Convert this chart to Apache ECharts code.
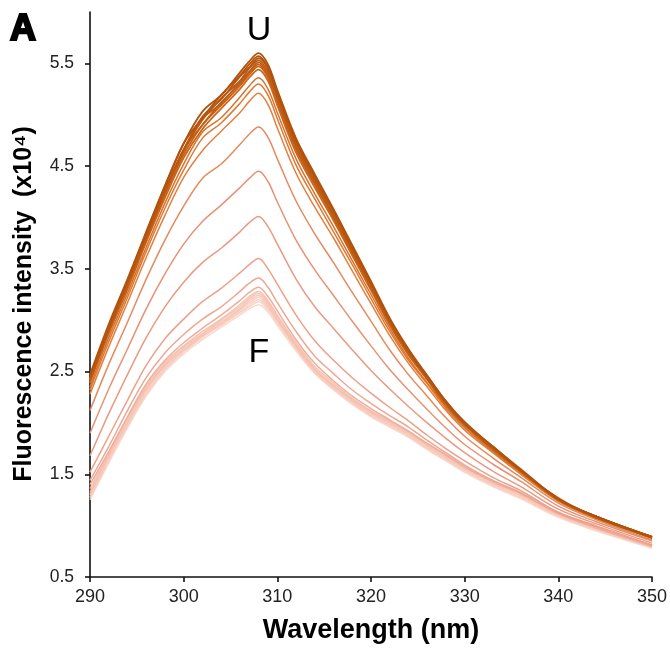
<!DOCTYPE html>
<html>
<head>
<meta charset="utf-8">
<script src="https://cdn.jsdelivr.net/npm/echarts@6/dist/echarts.min.js"></script>
<style>
html,body{margin:0;padding:0;background:#fff;}
#chart{width:670px;height:649px;}
</style>
</head>
<body>
<div id="chart"></div>
<script>
// Wavelengths (nm)
const wavelengths = [290,292,294,296,298,300,302,304,306,307,308,309,310,312,314,316,318,320,322,324,326,328,330,333,336,340,344,350];

// Tick values
const xTicks = [290,300,310,320,330,340,350];
const yTicks = [0.5,1.5,2.5,3.5,4.5,5.5];

// F-state (folded) cluster, light
const f7 = [1.25,1.61,1.95,2.26,2.50,2.67,2.81,2.93,3.05,3.11,3.15,3.08,2.95,2.70,2.48,2.32,2.18,2.06,1.96,1.86,1.74,1.63,1.52,1.38,1.26,1.08,0.95,0.78];
const f6 = [1.27,1.63,1.97,2.28,2.52,2.69,2.83,2.95,3.07,3.13,3.18,3.10,2.97,2.72,2.49,2.33,2.19,2.07,1.97,1.87,1.75,1.64,1.53,1.39,1.27,1.09,0.96,0.79];
const f5 = [1.28,1.64,1.98,2.29,2.53,2.70,2.84,2.96,3.08,3.15,3.20,3.12,2.99,2.73,2.50,2.34,2.20,2.08,1.98,1.88,1.76,1.65,1.54,1.40,1.28,1.10,0.97,0.79];
const f4 = [1.30,1.66,2.00,2.31,2.55,2.71,2.85,2.97,3.10,3.17,3.22,3.13,3.00,2.74,2.51,2.35,2.21,2.09,1.99,1.89,1.77,1.66,1.55,1.41,1.29,1.10,0.97,0.80];
const f3 = [1.31,1.68,2.01,2.33,2.56,2.72,2.86,2.98,3.11,3.19,3.24,3.15,3.01,2.75,2.52,2.36,2.22,2.10,2.00,1.90,1.78,1.67,1.56,1.42,1.30,1.11,0.98,0.80];
const f2 = [1.33,1.69,2.04,2.34,2.57,2.74,2.87,3.00,3.13,3.21,3.26,3.17,3.03,2.76,2.53,2.37,2.23,2.11,2.01,1.91,1.79,1.68,1.57,1.43,1.31,1.12,0.98,0.81];
const f1 = [1.36,1.71,2.05,2.36,2.59,2.75,2.89,3.01,3.15,3.23,3.28,3.19,3.05,2.78,2.55,2.39,2.24,2.12,2.02,1.92,1.80,1.69,1.58,1.44,1.32,1.13,0.99,0.81];

// Intermediate curves
const m9 = [1.40,1.72,2.06,2.38,2.61,2.78,2.92,3.05,3.19,3.27,3.32,3.23,3.09,2.81,2.58,2.41,2.26,2.14,2.03,1.92,1.80,1.69,1.57,1.43,1.31,1.12,0.98,0.80];
const m8 = [1.44,1.77,2.12,2.44,2.68,2.86,3.01,3.13,3.28,3.36,3.41,3.32,3.17,2.89,2.65,2.48,2.32,2.19,2.07,1.96,1.83,1.71,1.59,1.44,1.32,1.12,0.99,0.81];
const m7 = [1.52,1.87,2.22,2.56,2.82,3.01,3.18,3.31,3.46,3.54,3.60,3.50,3.35,3.05,2.80,2.61,2.44,2.29,2.15,2.02,1.88,1.75,1.63,1.47,1.34,1.13,1.00,0.81];
const m6 = [1.68,2.09,2.47,2.83,3.13,3.37,3.56,3.70,3.86,3.95,4.01,3.91,3.74,3.40,3.13,2.92,2.71,2.51,2.33,2.16,2.00,1.85,1.71,1.53,1.38,1.16,1.02,0.83];
const m5 = [1.90,2.33,2.72,3.11,3.45,3.74,3.96,4.12,4.29,4.38,4.45,4.35,4.15,3.78,3.49,3.24,2.99,2.75,2.52,2.32,2.13,1.95,1.79,1.60,1.43,1.19,1.04,0.85];
const m4 = [2.12,2.57,2.98,3.40,3.78,4.11,4.38,4.52,4.71,4.81,4.88,4.78,4.57,4.16,3.84,3.56,3.27,2.99,2.71,2.47,2.26,2.05,1.87,1.66,1.47,1.22,1.06,0.86];
const m3 = [2.28,2.74,3.17,3.61,4.02,4.39,4.65,4.84,5.02,5.13,5.21,5.10,4.87,4.43,4.10,3.80,3.48,3.16,2.85,2.58,2.35,2.12,1.93,1.71,1.50,1.24,1.07,0.88];
const m2 = [2.32,2.79,3.22,3.67,4.09,4.46,4.77,4.92,5.11,5.22,5.30,5.19,4.96,4.51,4.18,3.86,3.54,3.21,2.89,2.61,2.38,2.14,1.95,1.72,1.51,1.24,1.08,0.88];
const m1 = [2.35,2.83,3.26,3.71,4.14,4.52,4.83,4.97,5.17,5.28,5.36,5.25,5.02,4.57,4.23,3.91,3.58,3.25,2.92,2.63,2.39,2.16,1.96,1.73,1.52,1.25,1.08,0.88];

// U-state (unfolded) cluster, dark
const u8 = [2.39,2.87,3.30,3.76,4.19,4.58,4.86,5.06,5.25,5.36,5.44,5.33,5.09,4.63,4.29,3.97,3.63,3.29,2.95,2.66,2.42,2.17,1.98,1.74,1.53,1.25,1.08,0.89];
const u7 = [2.41,2.89,3.32,3.78,4.22,4.61,4.90,5.09,5.28,5.39,5.47,5.36,5.12,4.66,4.32,3.99,3.65,3.31,2.97,2.67,2.43,2.18,1.98,1.75,1.53,1.25,1.09,0.89];
const u6 = [2.42,2.90,3.34,3.79,4.24,4.66,4.90,5.12,5.30,5.41,5.49,5.38,5.15,4.68,4.33,4.01,3.66,3.32,2.98,2.68,2.43,2.19,1.99,1.75,1.53,1.26,1.09,0.88];
const u5 = [2.43,2.90,3.34,3.80,4.25,4.64,4.96,5.11,5.32,5.42,5.51,5.39,5.16,4.69,4.34,4.02,3.67,3.33,2.98,2.68,2.44,2.19,1.99,1.75,1.54,1.26,1.09,0.89];
const u4 = [2.42,2.91,3.36,3.81,4.26,4.66,4.95,5.16,5.33,5.45,5.53,5.42,5.18,4.71,4.37,4.03,3.68,3.34,2.99,2.69,2.44,2.20,1.99,1.76,1.54,1.26,1.09,0.88];
const u3 = [2.44,2.92,3.38,3.82,4.27,4.66,4.98,5.15,5.37,5.46,5.55,5.45,5.19,4.74,4.37,4.06,3.69,3.36,2.99,2.71,2.44,2.21,1.99,1.77,1.53,1.27,1.08,0.89];
const u2 = [2.46,2.94,3.38,3.85,4.30,4.72,4.97,5.19,5.38,5.49,5.57,5.46,5.22,4.75,4.40,4.07,3.71,3.36,3.01,2.71,2.46,2.21,2.00,1.77,1.54,1.26,1.09,0.89];
const u1 = [2.47,2.96,3.40,3.86,4.31,4.72,5.03,5.19,5.41,5.52,5.60,5.49,5.24,4.77,4.42,4.08,3.73,3.38,3.02,2.72,2.46,2.21,2.01,1.77,1.55,1.26,1.09,0.89];

// Draw order: light first, dark last
const curves = [f7,f6,f5,f4,f3,f2,f1,m9,m8,m7,m6,m5,m4,m3,m2,m1,u8,u7,u6,u5,u4,u3,u2,u1];
const palette = ['#f9d2c4','#f8cebf','#f7cabb','#f6c5b5','#f5c1b0','#f4bdab','#f3b9a6',
                 '#f0ae9a','#eea792','#eca08a','#e99a80','#e79272','#e38a5e','#e2813f','#de7a36','#d9732c',
                 '#cc681c','#c86418','#c46016','#c05c14','#bc5a12','#b85710','#b4540f','#b0520f'];

const series = curves.map((vals, k) => ({
  type: 'line',
  data: wavelengths.map((w, i) => [w, vals[i]]),
  showSymbol: false,
  smooth: 0.35,
  silent: true,
  lineStyle: { color: palette[k], width: k >= 16 ? 1.8 : 1.5, opacity: k < 7 ? 0.85 : 1 },
  z: 2 + k
}));

const chart = echarts.init(document.getElementById('chart'), null, { renderer: 'canvas' });
const fontFam = '"Liberation Sans", Arial, sans-serif';
chart.setOption({
  animation: false,
  backgroundColor: '#ffffff',
  grid: { left: 90, right: 18, top: 12, bottom: 72, containLabel: false },
  xAxis: {
    type: 'value', min: 290, max: 350, interval: 10,
    axisLine: { show: true, lineStyle: { color: '#111', width: 1.6 } },
    axisTick: { show: true, length: 5, inside: false, lineStyle: { color: '#111', width: 1.6 } },
    axisLabel: { color: '#222', fontSize: 18, fontFamily: fontFam, margin: 11,
      customValues: xTicks, formatter: v => String(v) },
    splitLine: { show: false }
  },
  yAxis: {
    type: 'value', min: 0.5, max: 6.0,
    axisLine: { show: true, lineStyle: { color: '#111', width: 1.6 } },
    axisTick: { show: true, length: 5, inside: false, customValues: yTicks, lineStyle: { color: '#111', width: 1.6 } },
    axisLabel: { color: '#222', fontSize: 17.5, fontFamily: fontFam, margin: 16,
      customValues: yTicks, formatter: v => Number(v).toFixed(1) },
    splitLine: { show: false }
  },
  series: series,
  graphic: [
    { type: 'text', left: 9, top: 11, style: { text: 'A', font: '900 36px "Liberation Sans", Arial, sans-serif', fill: '#000', stroke: '#000', lineWidth: 2.2 } },
    { type: 'text', x: 259, y: 31, style: { text: 'U', font: '34px "Liberation Sans", Arial, sans-serif', fill: '#000', align: 'center', verticalAlign: 'middle' } },
    { type: 'text', x: 259, y: 353, style: { text: 'F', font: '34px "Liberation Sans", Arial, sans-serif', fill: '#000', align: 'center', verticalAlign: 'middle' } },
    { type: 'text', x: 24, y: 304, rotation: Math.PI / 2, style: { text: 'Fluorescence intensity  (x10\u2074)', font: 'bold 25px "Liberation Sans", Arial, sans-serif', fill: '#000', align: 'center', verticalAlign: 'middle' } },
    { type: 'text', x: 371, y: 631, style: { text: 'Wavelength (nm)', font: 'bold 27px "Liberation Sans", Arial, sans-serif', fill: '#000', align: 'center', verticalAlign: 'middle' } }
  ]
});
</script>
</body>
</html>
